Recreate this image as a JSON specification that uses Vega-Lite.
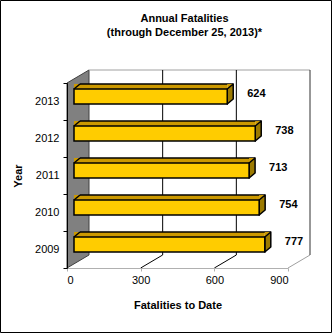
{
  "$schema": "https://vega.github.io/schema/vega-lite/v6.json",
  "width": 221,
  "height": 185,
  "autosize": "none",
  "padding": {"left": 67, "top": 83, "right": 44, "bottom": 65},
  "background": "white",
  "config": {"view": {"stroke": null}, "font": "Liberation Sans"},
  "title": {"text": ["Annual Fatalities", "(through December 25, 2013)*"], "fontSize": 11, "fontWeight": "bold", "font": "Liberation Sans", "color": "black", "anchor": "middle", "lineHeight": 14, "baseline": "bottom", "dx": 7, "dy": 50, "offset": 0},
  "datasets": {
    "fat": [
      {"year": "2013", "value": 624},
      {"year": "2012", "value": 738},
      {"year": "2011", "value": 713},
      {"year": "2010", "value": 754},
      {"year": "2009", "value": 777}
    ],
    "one": [{"k": "frame"}]
  },
  "layer": [
    {
      "data": {"name": "one"},
      "mark": {"type": "point", "shape": "M-66.5,-249 L264.5,-249 L264.5,83 L-66.5,83 Z", "size": 4, "filled": false, "stroke": "black", "strokeWidth": 1, "opacity": 1},
      "encoding": {
        "x": {"datum": 0, "type": "quantitative", "scale": {"domain": [0, 900], "nice": false}},
        "y": {"datum": "2009", "type": "nominal", "scale": {"type": "band", "domain": ["2013", "2012", "2011", "2010", "2009"], "paddingInner": 0, "paddingOuter": 0}}
      }
    },
    {
      "data": {"name": "one"},
      "mark": {"type": "point", "shape": "M0,-166.5 L22,-179.5 L22,5.5 L0,18.5 Z", "size": 4, "filled": true, "fill": "#808080", "stroke": "#404040", "strokeWidth": 1, "opacity": 1},
      "encoding": {
        "x": {"datum": 0, "type": "quantitative", "scale": {"domain": [0, 900], "nice": false}},
        "y": {"datum": "2009", "type": "nominal", "scale": {"type": "band", "domain": ["2013", "2012", "2011", "2010", "2009"], "paddingInner": 0, "paddingOuter": 0}}
      }
    },
    {
      "data": {"name": "one"},
      "mark": {"type": "point", "shape": "M22,-179.5 L243,-179.5", "size": 4, "filled": false, "stroke": "#a0a0a0", "strokeWidth": 1, "opacity": 1},
      "encoding": {
        "x": {"datum": 0, "type": "quantitative", "scale": {"domain": [0, 900], "nice": false}},
        "y": {"datum": "2009", "type": "nominal", "scale": {"type": "band", "domain": ["2013", "2012", "2011", "2010", "2009"], "paddingInner": 0, "paddingOuter": 0}}
      }
    },
    {
      "data": {"name": "one"},
      "mark": {"type": "point", "shape": "M0,18.5 L22,5.5 L22,-179.5", "size": 4, "filled": false, "stroke": "black", "strokeWidth": 1, "opacity": 1},
      "encoding": {
        "x": {"datum": 300, "type": "quantitative", "scale": {"domain": [0, 900], "nice": false}},
        "y": {"datum": "2009", "type": "nominal", "scale": {"type": "band", "domain": ["2013", "2012", "2011", "2010", "2009"], "paddingInner": 0, "paddingOuter": 0}}
      }
    },
    {
      "data": {"name": "one"},
      "mark": {"type": "point", "shape": "M0,18.5 L22,5.5 L22,-179.5", "size": 4, "filled": false, "stroke": "black", "strokeWidth": 1, "opacity": 1},
      "encoding": {
        "x": {"datum": 600, "type": "quantitative", "scale": {"domain": [0, 900], "nice": false}},
        "y": {"datum": "2009", "type": "nominal", "scale": {"type": "band", "domain": ["2013", "2012", "2011", "2010", "2009"], "paddingInner": 0, "paddingOuter": 0}}
      }
    },
    {
      "data": {"name": "one"},
      "mark": {"type": "point", "shape": "M0,18.5 L22,5.5", "size": 4, "filled": false, "stroke": "#a0a0a0", "strokeWidth": 1, "opacity": 1},
      "encoding": {
        "x": {"datum": 900, "type": "quantitative", "scale": {"domain": [0, 900], "nice": false}},
        "y": {"datum": "2009", "type": "nominal", "scale": {"type": "band", "domain": ["2013", "2012", "2011", "2010", "2009"], "paddingInner": 0, "paddingOuter": 0}}
      }
    },
    {
      "data": {"name": "one"},
      "mark": {"type": "point", "shape": "M22,5.5 L22,-179.5", "size": 4, "filled": false, "stroke": "#303030", "strokeWidth": 1, "opacity": 1},
      "encoding": {
        "x": {"datum": 900, "type": "quantitative", "scale": {"domain": [0, 900], "nice": false}},
        "y": {"datum": "2009", "type": "nominal", "scale": {"type": "band", "domain": ["2013", "2012", "2011", "2010", "2009"], "paddingInner": 0, "paddingOuter": 0}}
      }
    },
    {
      "data": {"name": "fat"},
      "mark": {"type": "bar", "height": 5, "yOffset": -15, "xOffset": 7, "x2Offset": 13, "fill": "#CC9900", "strokeWidth": 0},
      "encoding": {
        "x": {"field": "value", "type": "quantitative", "scale": {"domain": [0, 900], "nice": false}},
        "y": {"field": "year", "type": "nominal", "scale": {"type": "band", "domain": ["2013", "2012", "2011", "2010", "2009"], "paddingInner": 0, "paddingOuter": 0}}
      }
    },
    {
      "data": {"name": "fat"},
      "mark": {"type": "rule", "yOffset": -17.5, "xOffset": 13, "x2Offset": 13, "stroke": "black", "strokeWidth": 1.5},
      "encoding": {
        "x": {"field": "value", "type": "quantitative", "scale": {"domain": [0, 900], "nice": false}},
        "x2": {"datum": 0},
        "y": {"field": "year", "type": "nominal", "scale": {"type": "band", "domain": ["2013", "2012", "2011", "2010", "2009"], "paddingInner": 0, "paddingOuter": 0}}
      }
    },
    {
      "data": {"name": "fat"},
      "mark": {"type": "point", "shape": "M7,-12.5 L13,-17.5 L13,-12.5 Z", "size": 4, "filled": true, "fill": "#CC9900", "strokeWidth": 0, "opacity": 1},
      "encoding": {
        "x": {"datum": 0, "type": "quantitative", "scale": {"domain": [0, 900], "nice": false}},
        "y": {"field": "year", "type": "nominal", "scale": {"type": "band", "domain": ["2013", "2012", "2011", "2010", "2009"], "paddingInner": 0, "paddingOuter": 0}}
      }
    },
    {
      "data": {"name": "fat"},
      "mark": {"type": "point", "shape": "M7,-12.5 L13,-17.5", "size": 4, "filled": false, "stroke": "black", "strokeWidth": 1.5, "opacity": 1},
      "encoding": {
        "x": {"datum": 0, "type": "quantitative", "scale": {"domain": [0, 900], "nice": false}},
        "y": {"field": "year", "type": "nominal", "scale": {"type": "band", "domain": ["2013", "2012", "2011", "2010", "2009"], "paddingInner": 0, "paddingOuter": 0}}
      }
    },
    {
      "data": {"name": "fat"},
      "mark": {"type": "point", "shape": "M7,-12.5 L13,-17.5 L7,-17.5 Z", "size": 4, "filled": true, "fill": "#CC9900", "strokeWidth": 0, "opacity": 1},
      "encoding": {
        "x": {"field": "value", "type": "quantitative", "scale": {"domain": [0, 900], "nice": false}},
        "y": {"field": "year", "type": "nominal", "scale": {"type": "band", "domain": ["2013", "2012", "2011", "2010", "2009"], "paddingInner": 0, "paddingOuter": 0}}
      }
    },
    {
      "data": {"name": "fat"},
      "mark": {"type": "point", "shape": "M7,-12.5 L13,-17.5 L13,-2.5 L7,2.5 Z", "size": 4, "filled": true, "fill": "#9C7A00", "stroke": "black", "strokeWidth": 1.5, "strokeJoin": "round", "opacity": 1},
      "encoding": {
        "x": {"field": "value", "type": "quantitative", "scale": {"domain": [0, 900], "nice": false}},
        "y": {"field": "year", "type": "nominal", "scale": {"type": "band", "domain": ["2013", "2012", "2011", "2010", "2009"], "paddingInner": 0, "paddingOuter": 0}}
      }
    },
    {
      "data": {"name": "fat"},
      "mark": {"type": "bar", "height": 15, "yOffset": -5, "xOffset": 7, "x2Offset": 7, "fill": "#FFCC00", "stroke": "black", "strokeWidth": 1.5},
      "encoding": {
        "x": {"field": "value", "type": "quantitative", "scale": {"domain": [0, 900], "nice": false},
          "axis": {"values": [0, 300, 600, 900], "title": "Fatalities to Date", "grid": false, "domainColor": "#b0b0b0", "tickColor": "#b0b0b0", "tickSize": 3, "labelFont": "Liberation Sans", "labelFontSize": 11, "labelColor": "black", "labelPadding": 3, "titleFont": "Liberation Sans", "titleFontSize": 11, "titleFontWeight": "bold", "titleColor": "black", "titlePadding": 14, "zindex": 1}},
        "y": {"field": "year", "type": "nominal", "scale": {"type": "band", "domain": ["2013", "2012", "2011", "2010", "2009"], "paddingInner": 0, "paddingOuter": 0},
          "axis": {"title": "Year", "tickBand": "extent", "grid": false, "domainColor": "black", "tickColor": "black", "tickSize": 4, "labelFont": "Liberation Sans", "labelFontSize": 11, "labelColor": "black", "labelPadding": 4, "titleFont": "Liberation Sans", "titleFontSize": 11, "titleFontWeight": "bold", "titleColor": "black", "titlePadding": 11, "zindex": 1}}
      }
    },
    {
      "data": {"name": "fat"},
      "mark": {"type": "text", "align": "left", "baseline": "middle", "dx": 27, "dy": -8, "font": "Liberation Sans", "fontSize": 11, "fontWeight": "bold", "color": "black"},
      "encoding": {
        "x": {"field": "value", "type": "quantitative", "scale": {"domain": [0, 900], "nice": false}},
        "y": {"field": "year", "type": "nominal", "scale": {"type": "band", "domain": ["2013", "2012", "2011", "2010", "2009"], "paddingInner": 0, "paddingOuter": 0}},
        "text": {"field": "value", "type": "quantitative"}
      }
    }
  ]
}
